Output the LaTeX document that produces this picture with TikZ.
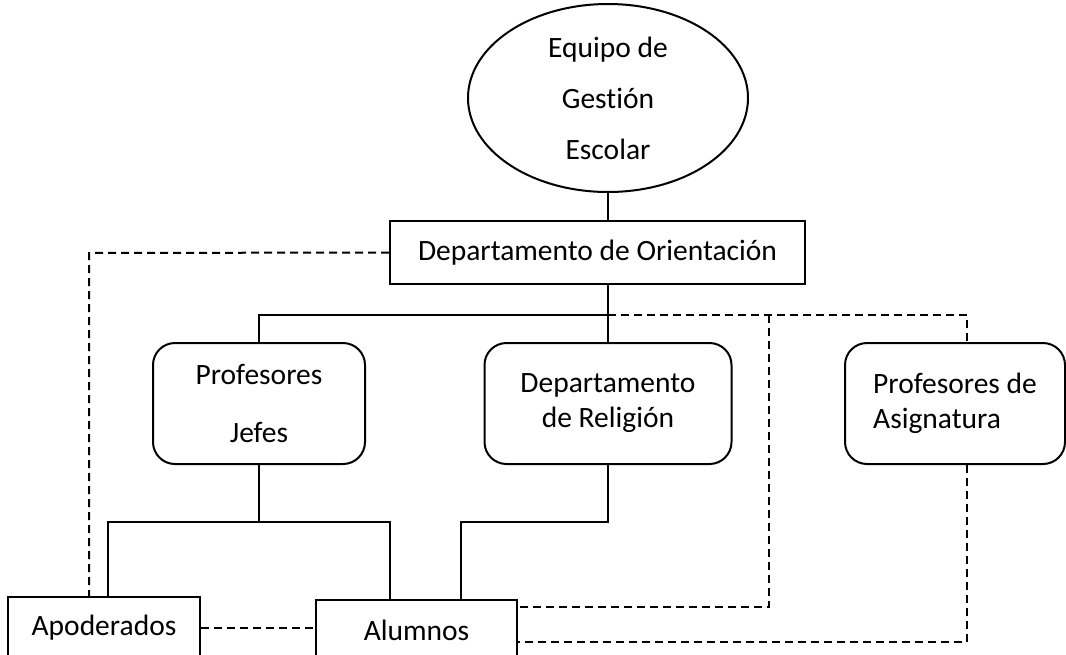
\documentclass[tikz,border=0pt]{standalone}
\usepackage{fontspec}
\setmainfont{Carlito}[Ligatures=NoCommon]
\usetikzlibrary{shapes.geometric}
\tikzstyle{none}=[inner sep=0pt]
\tikzstyle{simple}=[-,draw=black,line width=2.000]
\tikzstyle{dashline}=[-,draw=black,line width=2.000,dash pattern=on 8pt off 5pt]
\tikzstyle{box}=[rectangle,draw=black,line width=2.000,inner sep=0pt,align=center,font=\fontsize{29.5}{35}\selectfont]
\tikzstyle{rbox}=[box,rounded corners=22pt]
\tikzstyle{oval}=[box,ellipse,inner ysep=-30pt]
\pgfdeclarelayer{edgelayer}
\pgfdeclarelayer{nodelayer}
\pgfsetlayers{edgelayer,nodelayer,main}
\begin{document}
\begin{tikzpicture}[x=1pt,y=1pt]
	\useasboundingbox (0,0) rectangle (1066,-654);
	\begin{pgfonlayer}{nodelayer}
		\node [style=oval, minimum width=280, minimum height=188] (0) at (608, -98) {Equipo de\\[16pt]Gestión\\[16pt]Escolar};
		\node [style=box, minimum width=415, minimum height=63] (1) at (597.5, -252.5) {Departamento de Orientación};
		\node [style=rbox, minimum width=212, minimum height=121] (2) at (259, -403.5) {Profesores\\[23pt]Jefes};
		\node [style=rbox, minimum width=247, minimum height=121] (3) at (608, -403.5) {Departamento\\de Religión};
		\node [style=rbox, minimum width=220, minimum height=121, align=left] (4) at (955, -403.5) {Profesores de\\Asignatura};
		\node [style=box, minimum width=192, minimum height=62] (5) at (104, -628) {Apoderados};
		\node [style=box, minimum width=201, minimum height=60] (6) at (416.5, -630) {Alumnos};

		\node [style=none] (7) at (608, -315) {};
		\node [style=none] (8) at (259, -315) {};
		\node [style=none] (9) at (769, -315) {};
		\node [style=none] (10) at (967, -315) {};
		\node [style=none] (11) at (769, -607) {};
		\node [style=none] (12) at (967, -642) {};
		\node [style=none] (13) at (89, -253) {};
		\node [style=none] (14) at (259, -522) {};
		\node [style=none] (15) at (108, -522) {};
		\node [style=none] (16) at (390, -522) {};
		\node [style=none] (17) at (608, -522) {};
		\node [style=none] (18) at (461, -522) {};
	\end{pgfonlayer}
	\begin{pgfonlayer}{edgelayer}
		\draw [style=simple] (0.south) to (0.south |- 1.north);
		\draw [style=simple] (7.center |- 1.south) to (3.north);
		\draw [style=simple] (2.north) to (8.center) to (7.center);
		\draw [style=simple] (2.south) to (14.center);
		\draw [style=simple] (15.center |- 5.north) to (15.center) to (16.center) to (16.center |- 6.north);
		\draw [style=simple] (3.south) to (17.center) to (18.center) to (18.center |- 6.north);

		% dashed ones are the informal links
		\draw [style=dashline] (7.center) to (10.center) to (10.center |- 4.north);
		\draw [style=dashline] (9.center) to (11.center) to (11.center -| 6.east);
		\draw [style=dashline] (12.center |- 4.south) to (12.center) to (12.center -| 6.east);
		\draw [style=dashline] (1.west) to (13.center) to (13.center |- 5.north);
		\draw [style=dashline] (5.east) to (5.east -| 6.west);
	\end{pgfonlayer}
\end{tikzpicture}
\end{document}
